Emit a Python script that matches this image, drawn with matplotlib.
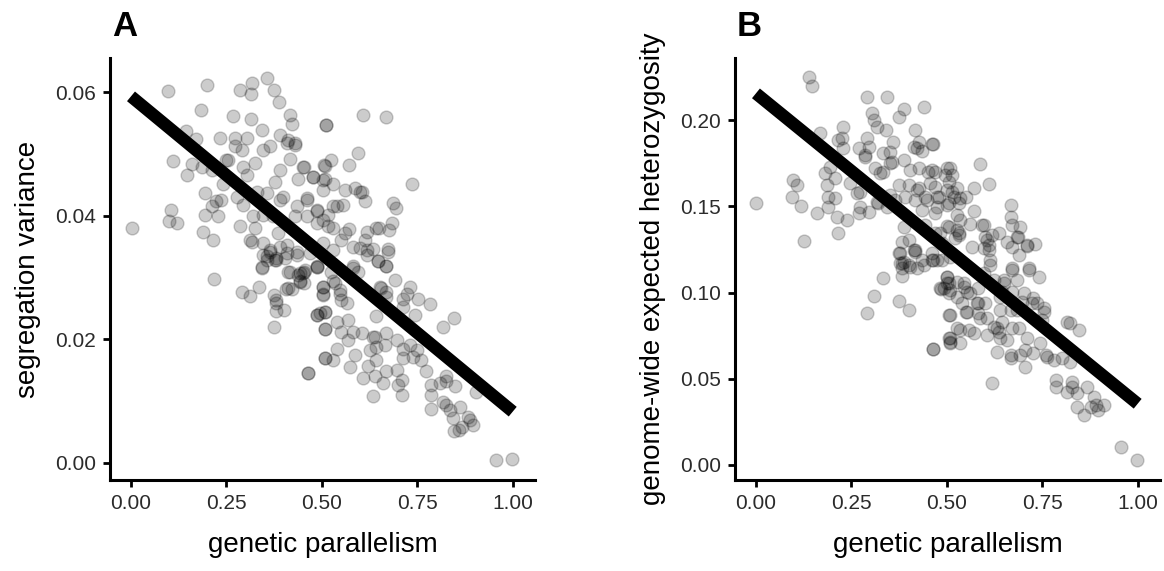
import matplotlib.pyplot as plt

# panel A: genetic parallelism vs segregation variance
par_a = [0.098, 0.200, 0.285, 0.318, 0.355, 0.314, 0.374, 0.387, 0.183, 0.268, 0.314, 0.416, 0.423, 0.344,
         0.510, 0.144, 0.170, 0.233, 0.272, 0.305, 0.390, 0.412, 0.429, 0.364, 0.346, 0.290, 0.111, 0.161,
         0.185, 0.148, 0.211, 0.255, 0.294, 0.325, 0.303, 0.416, 0.390, 0.451, 0.508, 0.438, 0.477, 0.503,
         0.377, 0.242, 0.194, 0.224, 0.211, 0.277, 0.294, 0.329, 0.355, 0.399, 0.434, 0.460, 0.486, 0.503,
         0.106, 0.100, 0.120, 0.002, 0.195, 0.229, 0.189, 0.214, 0.285, 0.325, 0.316, 0.346, 0.373, 0.386,
         0.408, 0.434, 0.469, 0.355, 0.381, 0.486, 0.460, 0.429,
         0.608, 0.668, 0.512, 0.595, 0.525, 0.505, 0.571, 0.453, 0.477, 0.508, 0.530, 0.502, 0.560, 0.586,
         0.604, 0.613, 0.539, 0.556, 0.735, 0.687, 0.694, 0.486, 0.517, 0.460, 0.486, 0.517, 0.530, 0.571,
         0.560, 0.650, 0.685, 0.676, 0.617, 0.551, 0.613, 0.582, 0.599, 0.634, 0.674, 0.617, 0.647, 0.668,
         0.503, 0.530, 0.582,
         0.218, 0.292, 0.312, 0.335, 0.374, 0.381, 0.381, 0.401, 0.375, 0.405, 0.421, 0.344, 0.355, 0.381,
         0.403, 0.412, 0.438, 0.442, 0.454, 0.488, 0.503, 0.503, 0.486, 0.508, 0.508, 0.508, 0.464, 0.434,
         0.364,
         0.451, 0.453, 0.486, 0.503, 0.503, 0.530, 0.547, 0.551, 0.565, 0.595, 0.582, 0.647, 0.668, 0.674,
         0.691, 0.656, 0.669, 0.730, 0.713, 0.752, 0.783, 0.743, 0.818, 0.846, 0.486, 0.508, 0.539, 0.569,
         0.508, 0.551, 0.582, 0.604, 0.569, 0.639, 0.643, 0.643, 0.626, 0.665, 0.696, 0.713, 0.730, 0.748,
         0.539, 0.586, 0.508, 0.530, 0.573, 0.621, 0.643, 0.669, 0.696, 0.713, 0.739, 0.761, 0.774, 0.464,
         0.608, 0.639, 0.661, 0.700, 0.709, 0.634, 0.709, 0.787, 0.809, 0.826, 0.848, 0.826, 0.785, 0.818,
         0.826, 0.861, 0.835, 0.785, 0.844, 0.883, 0.887, 0.896, 0.866, 0.846, 0.859, 0.905, 0.957, 0.999,
         0.390, 0.530, 0.599, 0.617, 0.643, 0.320, 0.346, 0.312, 0.364, 0.390, 0.408, 0.346, 0.377, 0.342,
         0.416, 0.442, 0.455, 0.525, 0.534, 0.547, 0.412, 0.442, 0.381, 0.495, 0.634, 0.669, 0.713, 0.722,
         0.652, 0.669, 0.272, 0.408, 0.429, 0.250, 0.237]
seg_var = [0.0602, 0.0611, 0.0604, 0.0614, 0.0623, 0.0596, 0.0604, 0.0584, 0.0571, 0.0561, 0.0556, 0.0563,
           0.0548, 0.0539, 0.0546, 0.0537, 0.0524, 0.0525, 0.0526, 0.0525, 0.0530, 0.0522, 0.0517, 0.0513,
           0.0506, 0.0506, 0.0489, 0.0483, 0.0478, 0.0465, 0.0474, 0.0490, 0.0479, 0.0485, 0.0466, 0.0491,
           0.0474, 0.0479, 0.0480, 0.0460, 0.0463, 0.0458, 0.0455, 0.0452, 0.0436, 0.0423, 0.0415, 0.0431,
           0.0417, 0.0439, 0.0436, 0.0431, 0.0415, 0.0425, 0.0409, 0.0393, 0.0409, 0.0391, 0.0388, 0.0380,
           0.0401, 0.0399, 0.0373, 0.0360, 0.0383, 0.0380, 0.0358, 0.0356, 0.0399, 0.0372, 0.0353, 0.0342,
           0.0339, 0.0334, 0.0328, 0.0317, 0.0399, 0.0399,
           0.0563, 0.0559, 0.0547, 0.0502, 0.0490, 0.0482, 0.0482, 0.0479, 0.0463, 0.0460, 0.0452, 0.0442,
           0.0442, 0.0444, 0.0439, 0.0423, 0.0415, 0.0417, 0.0452, 0.0420, 0.0412, 0.0407, 0.0401, 0.0428,
           0.0388, 0.0383, 0.0380, 0.0378, 0.0372, 0.0380, 0.0388, 0.0377, 0.0373, 0.0361, 0.0361, 0.0350,
           0.0347, 0.0346, 0.0346, 0.0336, 0.0327, 0.0319, 0.0356, 0.0345, 0.0318,
           0.0297, 0.0277, 0.0270, 0.0284, 0.0271, 0.0264, 0.0246, 0.0247, 0.0220, 0.0281, 0.0281, 0.0317,
           0.0328, 0.0331, 0.0331, 0.0309, 0.0304, 0.0292, 0.0309, 0.0317, 0.0285, 0.0272, 0.0239, 0.0245,
           0.0216, 0.0169, 0.0145, 0.0336, 0.0342,
           0.0307, 0.0291, 0.0318, 0.0285, 0.0274, 0.0294, 0.0280, 0.0264, 0.0258, 0.0309, 0.0315, 0.0326,
           0.0318, 0.0342, 0.0296, 0.0283, 0.0277, 0.0285, 0.0266, 0.0266, 0.0257, 0.0239, 0.0220, 0.0234,
           0.0239, 0.0245, 0.0228, 0.0231, 0.0216, 0.0212, 0.0212, 0.0210, 0.0199, 0.0204, 0.0237, 0.0188,
           0.0183, 0.0191, 0.0199, 0.0185, 0.0191, 0.0183, 0.0185, 0.0175, 0.0169, 0.0167, 0.0156, 0.0157,
           0.0167, 0.0148, 0.0150, 0.0169, 0.0172, 0.0167, 0.0148, 0.0145, 0.0137, 0.0140, 0.0129, 0.0126,
           0.0134, 0.0108, 0.0110, 0.0126, 0.0129, 0.0140, 0.0124, 0.0132, 0.0110, 0.0099, 0.0094, 0.0091,
           0.0086, 0.0087, 0.0072, 0.0075, 0.0070, 0.0061, 0.0059, 0.0051, 0.0053, 0.0115, 0.0005, 0.0006,
           0.0425, 0.0415, 0.0439, 0.0345, 0.0380, 0.0399, 0.0401, 0.0361, 0.0345, 0.0350, 0.0339, 0.0336,
           0.0328, 0.0315, 0.0309, 0.0307, 0.0312, 0.0309, 0.0291, 0.0274, 0.0283, 0.0294, 0.0258, 0.0242,
           0.0204, 0.0210, 0.0253, 0.0274, 0.0285, 0.0269, 0.0512, 0.0517, 0.0514, 0.0490, 0.0425]

# panel B: genetic parallelism vs genome-wide expected heterozygosity
par_b = [0.139, 0.146, 0.290, 0.343, 0.439, 0.387, 0.374, 0.304, 0.308, 0.317, 0.340, 0.417, 0.229, 0.168,
         0.225, 0.216, 0.290, 0.295, 0.269, 0.286, 0.229, 0.352, 0.422, 0.461, 0.435, 0.387, 0.352, 0.312,
         0.325, 0.426, 0.404, 0.461, 0.501, 0.194, 0.181, 0.207, 0.186, 0.247, 0.273, 0.374, 0.400, 0.426,
         0.470, 0.505, 0.098, 0.107, 0.095, 0.117, 0.000, 0.190, 0.207, 0.190, 0.159, 0.212, 0.238, 0.216,
         0.126, 0.273, 0.269, 0.295, 0.321, 0.343, 0.365, 0.391, 0.417, 0.444, 0.479, 0.505, 0.435, 0.470,
         0.387, 0.400, 0.382, 0.417, 0.378, 0.387, 0.435, 0.461, 0.487, 0.470, 0.505, 0.487, 0.382, 0.422,
         0.464, 0.588, 0.610, 0.570, 0.509, 0.514, 0.496, 0.470, 0.527, 0.514, 0.518, 0.549, 0.474, 0.474,
         0.501, 0.531, 0.570, 0.667, 0.667, 0.671, 0.693, 0.527, 0.535, 0.562, 0.597, 0.636, 0.501, 0.531,
         0.522, 0.483, 0.601, 0.619, 0.597, 0.610, 0.658, 0.671, 0.686, 0.710, 0.732, 0.688, 0.566, 0.614,
         0.671, 0.715, 0.509, 0.474,
         0.374, 0.417, 0.382, 0.404, 0.439, 0.461, 0.334, 0.382, 0.310, 0.374, 0.400, 0.291, 0.501, 0.501,
         0.486, 0.509, 0.507, 0.507, 0.509, 0.464,
         0.465, 0.501, 0.505, 0.483, 0.527, 0.544, 0.553, 0.583, 0.505, 0.540, 0.549, 0.509, 0.583, 0.601,
         0.583, 0.588, 0.610, 0.614, 0.671, 0.715, 0.741, 0.684, 0.649, 0.645, 0.671, 0.702, 0.697, 0.727,
         0.737, 0.754, 0.754, 0.640, 0.667, 0.645, 0.671, 0.688, 0.710, 0.640, 0.636, 0.658, 0.509, 0.527,
         0.557, 0.570, 0.605, 0.623, 0.509, 0.534, 0.465, 0.632, 0.667, 0.667, 0.693, 0.705, 0.705, 0.727,
         0.745, 0.759, 0.780, 0.763, 0.802, 0.824, 0.815, 0.824, 0.846, 0.619, 0.785, 0.785, 0.815, 0.829,
         0.829, 0.842, 0.868, 0.885, 0.842, 0.859, 0.877, 0.890, 0.912, 0.895, 0.957, 0.999,
         0.286, 0.356, 0.413, 0.334, 0.452, 0.422, 0.457, 0.501, 0.535, 0.448, 0.352, 0.264, 0.317, 0.444,
         0.527, 0.531, 0.592, 0.605, 0.684, 0.710, 0.413, 0.378, 0.400, 0.492, 0.544, 0.562, 0.527, 0.553,
         0.579, 0.605, 0.640, 0.649, 0.724, 0.684, 0.623, 0.597, 0.535, 0.632, 0.750, 0.334, 0.426, 0.360]
het = [0.2248, 0.2197, 0.2132, 0.2135, 0.2077, 0.2062, 0.2016, 0.2039, 0.2000, 0.1961, 0.1942, 0.1942,
       0.1961, 0.1926, 0.1894, 0.1884, 0.1894, 0.1842, 0.1836, 0.1787, 0.1836, 0.1816, 0.1836, 0.1861,
       0.1822, 0.1768, 0.1749, 0.1720, 0.1691, 0.1720, 0.1710, 0.1710, 0.1720, 0.1729, 0.1691, 0.1662,
       0.1623, 0.1633, 0.1584, 0.1623, 0.1623, 0.1604, 0.1613, 0.1642, 0.1652, 0.1623, 0.1555, 0.1503,
       0.1517, 0.1555, 0.1546, 0.1497, 0.1459, 0.1439, 0.1420, 0.1343, 0.1300, 0.1497, 0.1459, 0.1468,
       0.1517, 0.1497, 0.1536, 0.1555, 0.1536, 0.1555, 0.1555, 0.1517, 0.1478, 0.1459, 0.1381, 0.1304,
       0.1294, 0.1246, 0.1227, 0.1179, 0.1188, 0.1227, 0.1188, 0.1343, 0.1381, 0.1285, 0.1140, 0.1140,
       0.1861, 0.1743, 0.1629, 0.1607, 0.1720, 0.1681, 0.1681, 0.1700, 0.1604, 0.1584, 0.1555, 0.1552,
       0.1555, 0.1497, 0.1507, 0.1517, 0.1474, 0.1507, 0.1439, 0.1391, 0.1378, 0.1449, 0.1420, 0.1397,
       0.1391, 0.1343, 0.1387, 0.1347, 0.1314, 0.1343, 0.1323, 0.1333, 0.1256, 0.1275, 0.1294, 0.1265,
       0.1323, 0.1270, 0.1281, 0.1217, 0.1262, 0.1188, 0.1140, 0.1140, 0.1207, 0.1188,
       0.1227, 0.1237, 0.1169, 0.1150, 0.1159, 0.1188, 0.1082, 0.1096, 0.0981, 0.0952, 0.0899, 0.0879,
       0.1092, 0.1053, 0.1020, 0.1014, 0.0870, 0.0734, 0.0715, 0.0671,
       0.1188, 0.1092, 0.1053, 0.1024, 0.1063, 0.1034, 0.1005, 0.1024, 0.0995, 0.0937, 0.0889, 0.0870,
       0.0937, 0.0937, 0.0879, 0.0850, 0.1246, 0.1159, 0.1130, 0.1130, 0.1092, 0.1072, 0.1053, 0.1005,
       0.1005, 0.0995, 0.0947, 0.0966, 0.0937, 0.0908, 0.0889, 0.0899, 0.0899, 0.0831, 0.0793, 0.0793,
       0.0734, 0.0734, 0.0773, 0.0725, 0.0734, 0.0793, 0.0783, 0.0763, 0.0754, 0.0802, 0.0705, 0.0709,
       0.0671, 0.0657, 0.0638, 0.0619, 0.0638, 0.0667, 0.0570, 0.0647, 0.0705, 0.0638, 0.0609, 0.0628,
       0.0619, 0.0599, 0.0831, 0.0821, 0.0783, 0.0474, 0.0493, 0.0454, 0.0425, 0.0483, 0.0454, 0.0416,
       0.0454, 0.0396, 0.0338, 0.0290, 0.0338, 0.0348, 0.0348, 0.0319, 0.0103, 0.0029,
       0.1797, 0.1758, 0.1845, 0.1700, 0.1700, 0.1594, 0.1633, 0.1594, 0.1546, 0.1536, 0.1565, 0.1575,
       0.1526, 0.1391, 0.1362, 0.1333, 0.1391, 0.1304, 0.1323, 0.1275, 0.1246, 0.1169, 0.1159, 0.1024,
       0.1053, 0.0995, 0.0976, 0.0889, 0.0937, 0.0850, 0.0976, 0.1072, 0.0937, 0.0899, 0.1072, 0.1111,
       0.0783, 0.0793, 0.0841, 0.1807, 0.1874, 0.1874]

# fitted lines (intercept, slope)
fit_a = (0.0593, -0.0510)
fit_b = (0.2155, -0.1800)

plt.rcParams['font.family'] = ['Liberation Sans', 'DejaVu Sans']

fig = plt.figure(figsize=(11.64, 5.71), dpi=100)
ax1 = fig.add_axes([0.0945, 0.1594, 0.365, 0.7390])
ax2 = fig.add_axes([0.6314, 0.1594, 0.365, 0.7390])


def draw_panel(ax, x, y, fit, ylim, yticks, ylab, tag):
    ax.scatter(x, y, s=85, facecolor=(0, 0, 0, 0.2), edgecolor=(0, 0, 0, 0.2), linewidth=1.0, zorder=2)
    ax.plot([0, 1], [fit[0], fit[0] + fit[1]], color='black', lw=9, solid_capstyle='butt', zorder=3)
    ax.set_xlim(-0.055, 1.058)
    ax.set_ylim(*ylim)
    ax.set_xticks([0, 0.25, 0.5, 0.75, 1.0])
    ax.set_xticklabels(['0.00', '0.25', '0.50', '0.75', '1.00'])
    ax.set_yticks(yticks)
    ax.set_yticklabels(['%.2f' % t for t in yticks])
    for s in ['top', 'right']:
        ax.spines[s].set_visible(False)
    for s in ['left', 'bottom']:
        ax.spines[s].set_linewidth(2.2)
    ax.tick_params(length=5, width=2.0, labelsize=15, labelcolor='#2b2b2b', pad=5)
    ax.set_xlabel('genetic parallelism', fontsize=20, labelpad=14)
    ax.set_ylabel(ylab, fontsize=20, labelpad=10)
    ax.text(0.005, 1.035, tag, transform=ax.transAxes, fontsize=25, fontweight='bold', va='bottom')


draw_panel(ax1, par_a, seg_var, fit_a, (-0.00275, 0.0655), [0.00, 0.02, 0.04, 0.06],
           'segregation variance', 'A')
draw_panel(ax2, par_b, het, fit_b, (-0.0087, 0.236), [0.00, 0.05, 0.10, 0.15, 0.20],
           'genome-wide expected heterozygosity', 'B')

fig.savefig('out.png', dpi=100)
